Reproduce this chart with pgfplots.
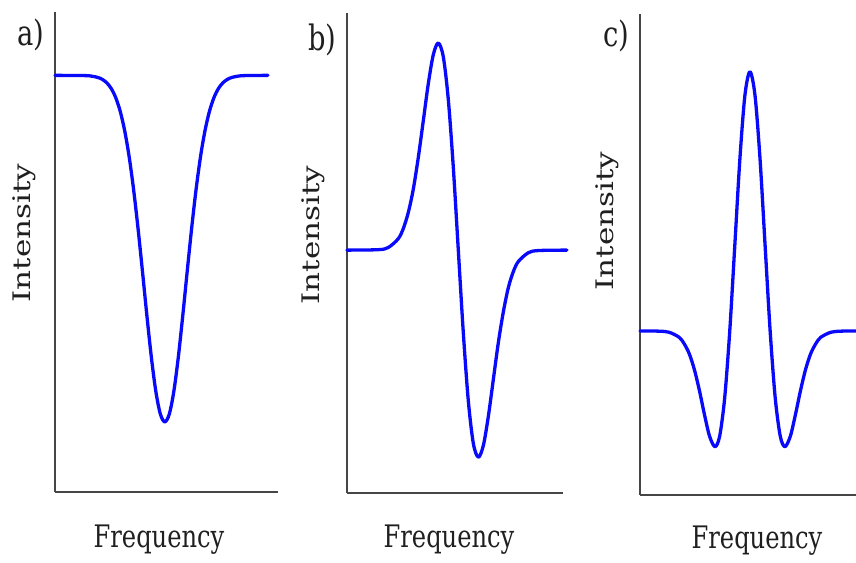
\documentclass[border=0pt]{standalone}
\usepackage{pgfplots}
\pgfplotsset{compat=1.18}
\usepackage{fontspec}
\setmainfont{DejaVu Serif}

\definecolor{curveblue}{RGB}{10,10,250}
\definecolor{axisgray}{RGB}{70,70,70}

\pgfplotsset{
  panel/.style={
    anchor=south west, scale only axis,
    xmin=0, ymin=0, ymax=100,
    axis x line=bottom, axis y line=left,
    axis line style={-, line width=1.6pt, color=axisgray},
    xtick=\empty, ytick=\empty, clip=false,
  },
  spectrum/.style={curveblue, line width=3.3pt, line join=round, line cap=round, smooth},
}

% narrow-set labels
\newcommand{\hlab}[1]{\scalebox{0.78}[1]{#1}}
\newcommand{\vlab}[1]{\rotatebox{90}{\scalebox{1}[0.78]{#1}}}

\begin{document}
\begin{tikzpicture}[x=1pt, y=1pt]
\path[use as bounding box] (0,0) rectangle (856,562);
\tikzset{lab/.style={font=\fontsize{31}{34}\selectfont, inner sep=0pt, text=black!88},
         letter/.style={lab, font=\fontsize{35}{38}\selectfont, anchor=base}}

% a) absorption line
\begin{axis}[panel, at={(55pt,70pt)}, width=223pt, height=480pt, xmax=100]
\addplot[spectrum] coordinates {
 (0,86.8) (13.25,86.75) (16.25,86.65) (19.25,86.36) (21.25,85.95) (23.25,85.23)
 (25.25,84.03) (27.25,82.13) (29.25,79.30) (31.25,75.26) (33.25,69.85) (35.25,62.99)
 (37.25,54.84) (39.25,45.81) (41.25,36.54) (43.25,27.91) (45.25,20.85) (47.25,16.22)
 (49.25,14.6)
 (51.25,16.22) (53.25,20.85) (55.25,27.91) (57.25,36.54) (59.25,45.81) (61.25,54.84)
 (63.25,62.99) (65.25,69.85) (67.25,75.26) (69.25,79.30) (71.25,82.13) (73.25,84.03)
 (75.25,85.23) (77.25,85.95) (79.25,86.36) (82.25,86.65) (85.25,86.75) (95.5,86.8)
};
\end{axis}

% b) first derivative
\begin{axis}[panel, at={(347pt,69pt)}, width=216pt, height=480pt, xmax=98.2]
\addplot[spectrum] coordinates {
 (0,50.6) (14.2,50.69) (18.75,51.14) (23.3,52.97) (25.6,55.1) (27.85,58.41) (30.1,63.2) (32.4,69.86)
 (34.68,77.53) (36.95,85.25) (39.23,91.31) (41.5,93.75) (43.78,90.88) (46.05,81.99)
 (48.33,67.84) (50.6,50.6) (52.88,33.36) (55.15,19.21) (57.43,10.32) (59.7,7.45)
 (61.98,9.89) (64.25,15.95) (66.53,23.67) (68.8,31.34) (71.1,37.8) (73.35,42.79) (75.6,46.1) (77.9,48.23)
 (82.45,50.06) (87.0,50.51) (100,50.6)
};
\end{axis}

% c) second derivative
\begin{axis}[panel, at={(640pt,67pt)}, width=216pt, height=481pt, xmax=100]
\addplot[spectrum] coordinates {
 (0,34.1) (8.83,34.06) (13.5,33.83) (18.18,32.77) (20.5,31.4) (22.85,29.31) (25.19,26.04)
 (27.53,21.67) (29.86,16.68) (32.2,12.22) (34.71,10.04) (36.88,12.23) (39.21,20.22)
 (41.55,34.1) (43.89,51.90) (46.23,69.78) (48.56,83.07) (50.9,88.0) (53.24,83.07)
 (55.58,69.78) (57.91,51.90) (60.25,34.1) (62.59,20.22) (64.93,12.23) (67.09,10.04)
 (69.6,12.22) (71.94,16.68) (74.28,21.67) (76.61,26.04) (78.95,29.31) (81.3,31.4) (83.63,32.77)
 (88.3,33.83) (92.98,34.06) (100,34.1)
};
\end{axis}

% panel letters and axis names
\node[letter] at (30.5,516) {\hlab{a)}};
\node[letter] at (322.5,511) {\hlab{b)}};
\node[letter] at (616.5,515) {\hlab{c)}};
\node[lab, anchor=east] at (36,329) {\vlab{Intensity}};
\node[lab, anchor=east] at (325,327) {\vlab{Intensity}};
\node[lab, anchor=east] at (619,341) {\vlab{Intensity}};
\node[lab, anchor=base] at (159,15) {\hlab{Frequency}};
\node[lab, anchor=base] at (449,15) {\hlab{Frequency}};
\node[lab, anchor=base] at (757,14) {\hlab{Frequency}};
\end{tikzpicture}
\end{document}
